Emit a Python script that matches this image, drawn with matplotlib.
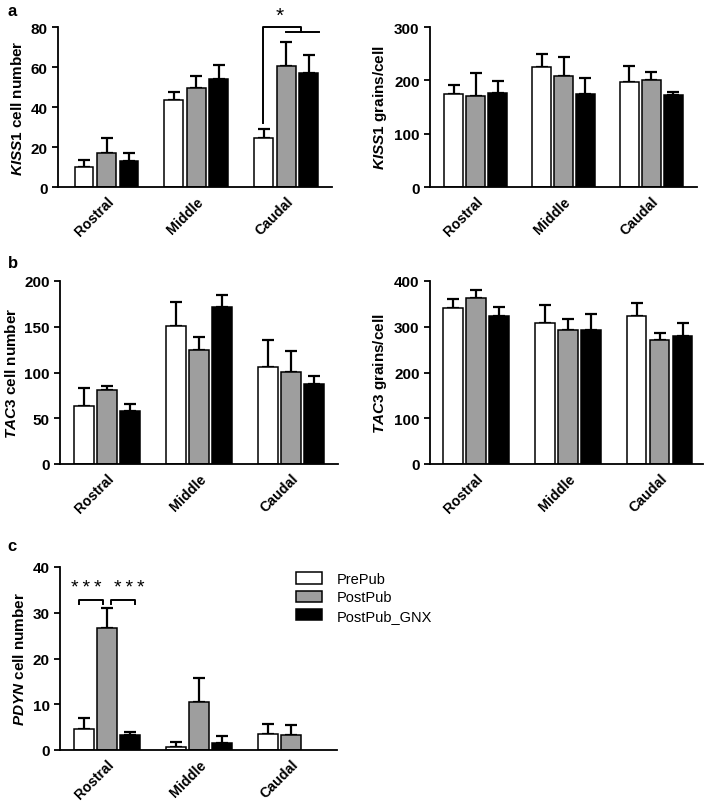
import numpy as np
import matplotlib
matplotlib.use("Agg")
import matplotlib.pyplot as plt
from matplotlib.patches import Patch

plt.rcParams['font.family'] = ['Liberation Sans', 'DejaVu Sans']
plt.rcParams['mathtext.fontset'] = 'custom'
plt.rcParams['mathtext.it'] = 'Liberation Sans:italic:bold'
plt.rcParams['mathtext.rm'] = 'Liberation Sans:bold'

# Data
regions = ['Rostral', 'Middle', 'Caudal']
groups = ['PrePub', 'PostPub', 'PostPub_GNX']
colors = ['white', '#9e9e9e', 'black']

kiss1_cells = [[10, 43.7, 24.7], [17.2, 49.5, 60.3], [13, 53.8, 57]]
kiss1_cells_err = [[3.3, 3.8, 4.5], [7.3, 5.8, 12.2], [4, 7, 8.8]]

kiss1_grains = [[175, 225, 197], [171, 209, 200], [176, 175, 172]]
kiss1_grains_err = [[17, 24, 29], [43, 34, 16], [23, 29, 6]]

tac3_cells = [[62.9, 151, 106.5], [80.7, 125, 100.7], [58, 172, 87.6]]
tac3_cells_err = [[20, 26, 28.5], [4.8, 14, 22.3], [7.5, 13, 8.8]]

tac3_grains = [[342, 308, 323], [362, 292, 270], [324, 292, 280]]
tac3_grains_err = [[19, 39, 29], [18, 24, 17], [19, 35, 28]]

pdyn_cells = [[4.5, 0.7, 3.4], [26.6, 10.5, 3.3], [3.3, 1.5, 0]]
pdyn_cells_err = [[2.4, 1.1, 2.2], [4.4, 5.3, 2.1], [0.6, 1.6, 0]]

W, H = 709, 803
fig = plt.figure(figsize=(W / 100, H / 100), dpi=100)


def px_axes(x0, x1, ytop, ybot):
    return fig.add_axes([x0 / W, 1 - ybot / H, (x1 - x0) / W, (ybot - ytop) / H])


def bar_panel(ax, vals, errs, ymax, step, gene, unit, xlim):
    x = np.arange(len(regions))
    width = 0.21
    for i in range(3):
        pos = x + (i - 1) * 0.25
        v = np.array(vals[i], dtype=float)
        e = np.array(errs[i], dtype=float)
        keep = v > 0  # no bar drawn where the group has no value
        ax.errorbar(pos[keep], v[keep], yerr=[np.zeros(keep.sum()), e[keep]],
                    fmt='none', ecolor='black', elinewidth=1.6, capsize=4,
                    capthick=1.6, zorder=1)
        ax.bar(pos[keep], v[keep], width, color=colors[i], edgecolor='black',
               linewidth=1.1, zorder=2)
    ax.set_xlim(*xlim)
    ax.set_ylim(0, ymax)
    ax.set_yticks(np.arange(0, ymax + 1, step))
    ax.set_xticks(x)
    ax.set_xticklabels(regions, rotation=45, ha='right', rotation_mode='anchor',
                       fontsize=10.2, fontweight='bold')
    ax.tick_params(axis='x', length=0, pad=5)
    ax.tick_params(axis='y', length=4, width=1.3, labelsize=11)
    for lab in ax.get_yticklabels():
        lab.set_fontweight('bold')
    for s in ['top', 'right']:
        ax.spines[s].set_visible(False)
    for s in ['left', 'bottom']:
        ax.spines[s].set_linewidth(1.3)
    ax.set_ylabel(r'$' + gene + r'$ ' + unit, fontsize=11, fontweight='bold',
                  labelpad=4)


ax1 = px_axes(58, 332, 28, 188)
bar_panel(ax1, kiss1_cells, kiss1_cells_err, 80, 20, 'KISS1', 'cell number', (-0.54, 2.51))
ax2 = px_axes(430, 697, 28, 188)
bar_panel(ax2, kiss1_grains, kiss1_grains_err, 300, 100, 'KISS1', 'grains/cell', (-0.52, 2.52))
ax3 = px_axes(60, 338, 282, 465)
bar_panel(ax3, tac3_cells, tac3_cells_err, 200, 50, 'TAC3', 'cell number', (-0.51, 2.51))
ax4 = px_axes(430, 703, 282, 465)
bar_panel(ax4, tac3_grains, tac3_grains_err, 400, 100, 'TAC3', 'grains/cell', (-0.5, 2.47))
ax5 = px_axes(60, 337, 568, 751)
bar_panel(ax5, pdyn_cells, pdyn_cells_err, 40, 10, 'PDYN', 'cell number', (-0.51, 2.5))

# significance marks, panel a
ax1.plot([1.745, 1.745, 2.17, 2.17], [32, 80, 80, 77.5], color='black', lw=1.4, clip_on=False)
ax1.plot([2.0, 2.36], [77.5, 77.5], color='black', lw=1.4, clip_on=False)
ax1.text(1.93, 86, '*', ha='center', va='center', fontsize=15, clip_on=False)

# significance marks, panel c
for xa, xb, xs in [(-0.3, -0.04, -0.22), (0.04, 0.3, 0.24)]:
    ax5.plot([xa, xa, xb, xb], [31.9, 32.8, 32.8, 31.9], color='black', lw=1.4)
    ax5.text(xs, 35.6, '*\u2009*\u2009*', ha='center', va='center', fontsize=14)

# panel letters
fig.text(8 / W, 1 - 12 / H, 'a', fontsize=12, fontweight='bold', va='center')
fig.text(8 / W, 1 - 263 / H, 'b', fontsize=12, fontweight='bold', va='center')
fig.text(7 / W, 1 - 547 / H, 'c', fontsize=12, fontweight='bold', va='center')

handles = [Patch(facecolor=c, edgecolor='black', linewidth=1.1) for c in colors]
fig.legend(handles, groups, loc='upper left', bbox_to_anchor=(296 / W, 1 - 573 / H),
           frameon=False, fontsize=10.5, handlelength=1.8, handleheight=0.8,
           handletextpad=1.0, labelspacing=0.3, borderpad=0, borderaxespad=0)

fig.savefig('out.png', dpi=100)
